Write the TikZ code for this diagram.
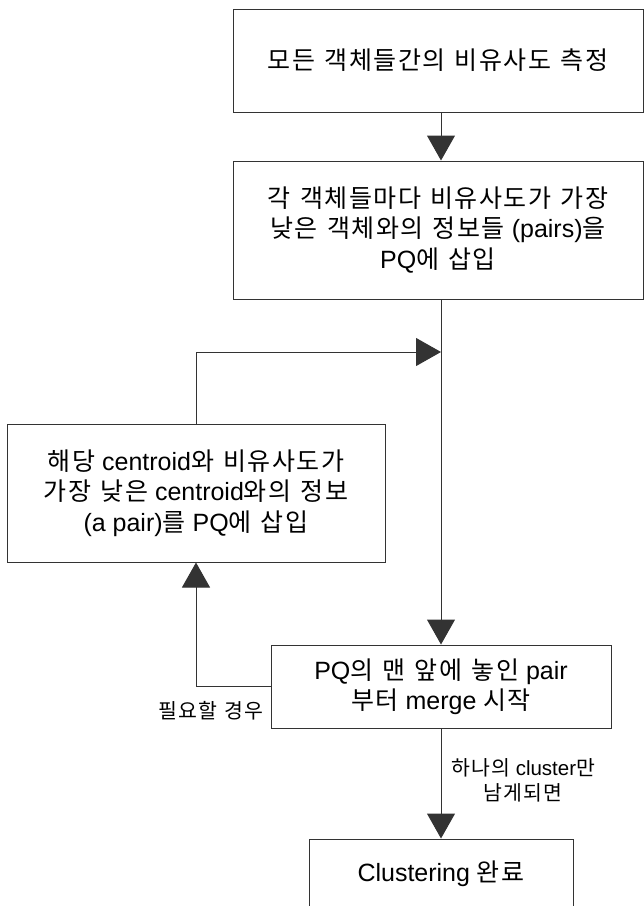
\documentclass[tikz,border=0pt]{standalone}
\usepackage{fontspec}
\setmainfont{Liberation Sans}
\newfontfamily\kr[LetterSpace=6,WordSpace=1.3]{Noto Sans CJK KR}
\usepackage{tikz}
\usetikzlibrary{arrows.meta}

\newcommand{\K}[1]{{\kr #1}}

\tikzset{
  stepbox/.style={draw=black!80, line width=1pt, rectangle, inner sep=0pt,
    align=center, font=\fontsize{25}{30.5}\selectfont},
  lbl/.style={inner sep=0pt, align=center, font=\fontsize{20.5}{25}\selectfont},
  arr/.style={draw=black!80, line width=1pt, -{Triangle[width=28pt,length=25pt]}},
  ln/.style={draw=black!80, line width=1pt}
}

\begin{document}
\begin{tikzpicture}[x=1pt,y=-1pt]
\useasboundingbox (0,0) rectangle (644,906);
\clip (0,0) rectangle (644,906);

% steps
\node[stepbox, minimum width=410pt, minimum height=103pt] (meas) at (438,60.5)
  {\K{모든 객체들간의 비유사도 측정}};
\node[stepbox, minimum width=410pt, minimum height=138pt] (insert) at (438,230)
  {\K{각 객체들마다 비유사도가 가장}\\
   \K{낮은 객체와의 정보들} (pairs)\K{을}\\
   PQ\K{에 삽입}};
\node[stepbox, minimum width=378pt, minimum height=138pt] (cent) at (196,493)
  {\K{해당} centroid\K{와 비유사도가}\\
   \K{가장 낮은} centroid\K{와의 정보}\\
   (a pair)\K{를} PQ\K{에 삽입}};
\node[stepbox, minimum width=340pt, minimum height=83pt] (merge) at (441,686.5)
  {PQ\K{의 맨 앞에 놓인} pair\\
   \K{부터} merge \K{시작}};
\node[stepbox, minimum width=264pt, minimum height=70pt] (done) at (441,874)
  {Clustering \K{완료}};

% labels
\node[lbl, anchor=east] (need) at (264,711) {\K{필요할 경우}};
\node[lbl] (onecl) at (523,780) {\K{하나의} cluster\K{만}\\ \K{남게되면}};

% connectors
\coordinate (join) at (441,352);
\draw[arr] (meas.south -| join) -- (insert.north -| join);
\draw[arr] (insert.south -| join) -- (merge.north);
\draw[arr] (cent.north) |- (join);
\draw[arr] (merge.west) -| (cent.south);
\draw[arr] (merge.south) -- (done.north);
\end{tikzpicture}
\end{document}
